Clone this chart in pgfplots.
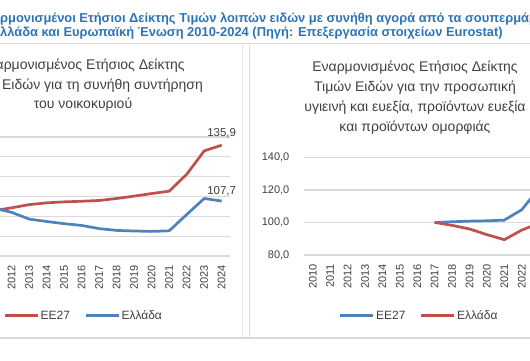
\documentclass[border=0pt]{standalone}
\usepackage{pgfplots}
\pgfplotsset{compat=1.18}
\usepackage{fontspec}
\setmainfont{Liberation Sans}
\definecolor{exred}{RGB}{192,80,77}
\definecolor{exblue}{RGB}{79,129,189}
\definecolor{gridgray}{RGB}{217,217,217}
\definecolor{txt}{RGB}{64,64,64}
\definecolor{ttlblue}{RGB}{46,116,181}

\pgfplotsset{
  panel/.style={
    scale only axis,
    xmin=2009.5, xmax=2024.5,
    ymin=80, ymax=140,
    xtick={2010,2011,2012,2013,2014,2015,2016,2017,2018,2019,2020,2021,2022,2023,2024},
    xticklabels={2010,2011,2012,2013,2014,2015,2016,2017,2018,2019,2020,2021,2022,2023,2024},
    xticklabel style={rotate=90, anchor=east, inner sep=0pt, font=\fontsize{11}{13}\selectfont, text=txt},
    xticklabel shift=9pt,
    yticklabel style={anchor=east, inner sep=0pt, font=\fontsize{11}{13}\selectfont, text=txt},
    yticklabel shift=14.5pt,
    ymajorgrids,
    major grid style={gridgray, line width=1.3pt},
    axis line style={draw=none},
    tick style={draw=none},
    clip=false,
    legend columns=2,
    legend cell align=left,
    legend image code/.code={\draw[##1, line width=2.6pt] (0pt,0pt) -- (33pt,0pt);},
    legend style={draw=none, fill=none, inner sep=0pt, anchor=center,
      font=\fontsize{12}{14}\selectfont, text=txt,
      nodes={inner sep=1.5pt},
      /tikz/every even column/.append style={column sep=13pt}},
  },
  serie/.style={line width=2.7pt, mark=none, line join=round},
}

\begin{document}
\begin{tikzpicture}[x=1pt,y=1pt]
\useasboundingbox (0,0) rectangle (530,361);
\clip (0,0) rectangle (530,361);
\fill[white] (0,0) rectangle (530,361);

% main title
\node[anchor=base west, inner sep=0pt, font=\bfseries\fontsize{12.9}{15}\selectfont, text=ttlblue] at (0,338)
  {\llap{Ενα}ρμονισμένοι Ετήσιοι Δείκτης Τιμών λοιπών ειδών με συνήθη αγορά από τα σουπερμάρκετ στην};
\node[anchor=base west, inner sep=0pt, font=\bfseries\fontsize{12.9}{15}\selectfont, text=ttlblue] at (0,324)
  {\llap{Ε}λλάδα και Ευρωπαϊκή Ένωση 2010-2024 (Πηγή: Επεξεργασία στοιχείων Eurostat)};

% frames
\draw[gridgray, line width=1pt] (0,317) -- (530,317);
\draw[gridgray!70, line width=0.8pt] (242,316) -- (242,22.7);
\draw[gridgray, line width=1.6pt] (249.3,316) -- (249.3,22.7);
\draw[gridgray, line width=1.6pt] (0,22.7) -- (530,22.7);

% left panel title
\begin{scope}[every node/.style={anchor=base, inner sep=0pt, font=\fontsize{14}{20}\selectfont, text=txt}]
\node at (82,291) {Εναρμονισμένος Ετήσιος Δείκτης};
\node at (82,271.5) {Τιμών Ειδών για τη συνήθη συντήρηση};
\node at (83,252) {του νοικοκυριού};
% right panel title
\node at (415,289) {Εναρμονισμένος Ετήσιος Δείκτης};
\node at (415,269) {Τιμών Ειδών για την προσωπική};
\node at (415,249) {υγιεινή και ευεξία, προϊόντων ευεξία};
\node at (415,229) {και προϊόντων ομορφιάς};
\end{scope}

% left panel
\begin{axis}[panel, at={(-32.05pt,105pt)}, anchor=south west, width=262.5pt, height=119pt,
  ytick={80,90,100,110,120,130,140},
  yticklabels={{80,0},{90,0},{100,0},{110,0},{120,0},{130,0},{140,0}},
  legend style={at={(0.44,-0.502)}}]
\addplot[serie, exred] coordinates {
 (2010,100.0) (2011,102.9) (2012,104.3) (2013,105.9) (2014,106.8) (2015,107.3)
 (2016,107.6) (2017,108.0) (2018,109.0) (2019,110.2) (2020,111.5) (2021,112.7)
 (2022,121.2) (2023,133.0) (2024,135.9)};
\addlegendentry{EE27}
\addplot[serie, exblue] coordinates {
 (2010,100.0) (2011,104.1) (2012,102.0) (2013,98.6) (2014,97.4) (2015,96.3)
 (2016,95.4) (2017,93.8) (2018,92.9) (2019,92.6) (2020,92.4) (2021,92.7)
 (2022,100.9) (2023,109.0) (2024,107.7)};
\addlegendentry{Ελλάδα}
\node[anchor=base, inner sep=0pt, font=\fontsize{11.5}{13}\selectfont, text=txt, yshift=8.5pt] at (axis cs:2024,135.9) {135,9};
\node[anchor=base, inner sep=0pt, font=\fontsize{11.5}{13}\selectfont, text=txt, yshift=6.5pt] at (axis cs:2024,107.7) {107,7};
\end{axis}

% right panel
\begin{axis}[panel, at={(304pt,106pt)}, anchor=south west, width=261.3pt, height=97.7pt,
  ytick={80,100,120,140},
  yticklabels={{80,0},{100,0},{120,0},{140,0}},
  legend style={at={(0.44,-0.621)}}]
\addplot[serie, exblue] coordinates {
 (2017,100.0) (2018,100.4) (2019,100.8) (2020,101.0) (2021,101.4)
 (2022,107.8) (2023,121.0) (2024,123.5)};
\addlegendentry{EE27}
\addplot[serie, exred] coordinates {
 (2017,100.0) (2018,98.2) (2019,96.0) (2020,92.5) (2021,89.4)
 (2022,95.3) (2023,99.5) (2024,102.0)};
\addlegendentry{Ελλάδα}
\end{axis}
\end{tikzpicture}
\end{document}
